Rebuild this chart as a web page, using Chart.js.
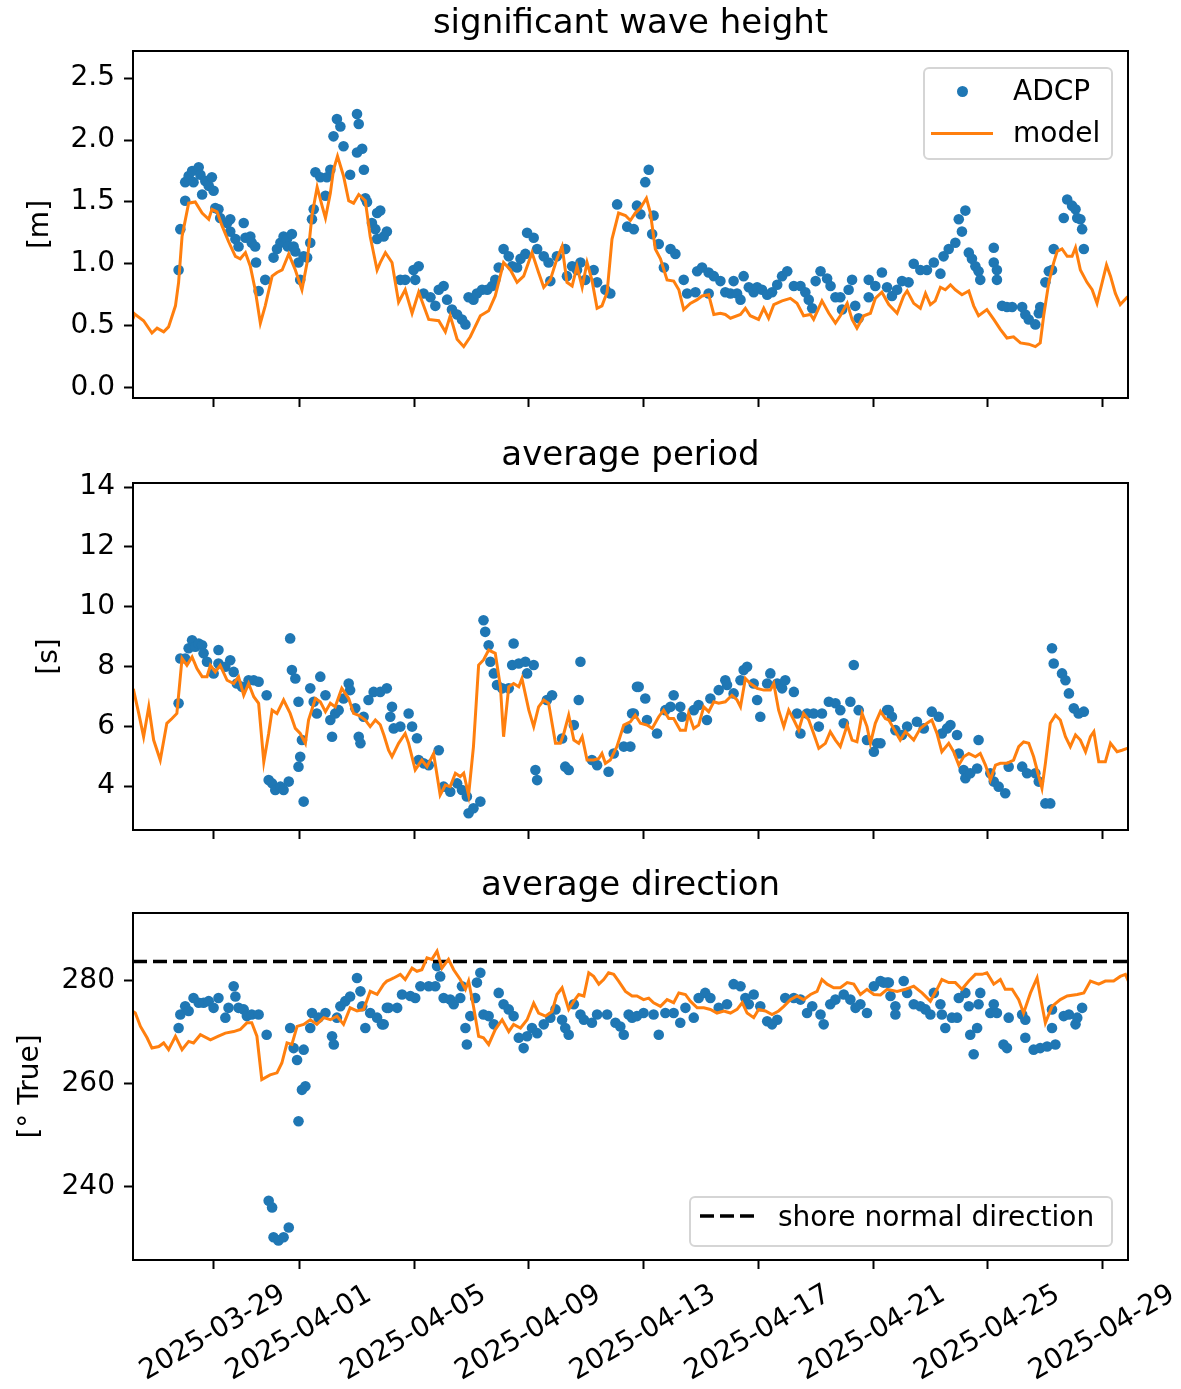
<!DOCTYPE html>
<html>
<head>
<meta charset="utf-8">
<title>ADCP vs model</title>
<script src="https://cdn.jsdelivr.net/npm/chart.js@4.4.0/dist/chart.umd.min.js"></script>
<style>
  body { margin: 0; background: #fff; }
  #fig { position: relative; width: 1181px; height: 1389px; font-family: 'DejaVu Sans', sans-serif; color: #000; }
  #fig canvas { position: absolute; left: 0; display: block; }
  .legend { position: absolute; box-sizing: border-box; border: 2px solid #d5d5d5; border-radius: 6px; background: rgba(255,255,255,0.8); }
  .legend span { position: absolute; font-size: 28px; line-height: 32px; white-space: nowrap; }
  .legend .dot { position: absolute; width: 11px; height: 11px; border-radius: 50%; background: #1f77b4; }
  .legend .line { position: absolute; height: 3px; background: #ff7f0e; }
  .legend svg { position: absolute; }
</style>
</head>
<body>
<div id="fig">
  <canvas id="hsChart" width="1181" height="428" style="top:0px"></canvas>
  <canvas id="tpChart" width="1181" height="428" style="top:432px"></canvas>
  <canvas id="dirChart" width="1181" height="527" style="top:862px"></canvas>

  <div class="legend" style="left:923px; top:67px; width:190px; height:93px;">
    <div class="dot" style="left:32px; top:17px;"></div>
    <span style="left:88px; top:6px;">ADCP</span>
    <div class="line" style="left:6px; top:63px; width:62px;"></div>
    <span style="left:88px; top:48px;">model</span>
  </div>

  <div class="legend" style="left:689px; top:1196px; width:424px; height:51px;">
    <svg width="58" height="8" style="left:9px; top:14px;">
      <line x1="0" y1="4" x2="58" y2="4" stroke="#000" stroke-width="3.5" stroke-dasharray="14 6"></line>
    </svg>
    <span style="left:87px; top:3px;">shore normal direction</span>
  </div>
</div>

<script>
// time axis: days since 2025-03-29 00:00
const xMin = -2.80;
const xMax = 31.89;
const tickDays = [0, 3, 7, 11, 15, 19, 23, 27, 31];
const tickLabels = ['2025-03-29', '2025-04-01', '2025-04-05', '2025-04-09', '2025-04-13',
                    '2025-04-17', '2025-04-21', '2025-04-25', '2025-04-29'];

const hsTicks = [0, 0.5, 1, 1.5, 2, 2.5];
const tpTicks = [4, 6, 8, 10, 12, 14];
const dirTicks = [240, 260, 280];
const shoreNormal = 283.7;

// significant wave height [m]
const hsModel = [[-2.80,0.61],[-2.78,0.60],[-2.43,0.54],[-2.14,0.44],[-1.96,0.48],[-1.73,0.45],[-1.56,0.49],[-1.32,0.66],[-1.21,0.85],[-1.09,1.22],[-0.86,1.49],[-0.63,1.50],[-0.39,1.41],[-0.16,1.36],[-0.05,1.44],[0.13,1.42],[0.30,1.31],[0.53,1.18],[0.77,1.06],[0.94,1.04],[1.12,1.09],[1.29,0.98],[1.46,0.79],[1.64,0.52],[1.81,0.66],[2.05,0.90],[2.22,0.93],[2.40,0.95],[2.63,1.08],[2.86,0.95],[3.09,0.79],[3.27,1.01],[3.44,1.39],[3.62,1.62],[3.79,1.47],[3.91,1.37],[4.08,1.57],[4.19,1.76],[4.33,1.87],[4.54,1.71],[4.72,1.51],[4.89,1.49],[5.07,1.56],[5.30,1.51],[5.47,1.22],[5.71,0.95],[5.82,1.01],[6.00,1.09],[6.23,1.01],[6.46,0.69],[6.69,0.79],[6.93,0.60],[7.16,0.77],[7.51,0.55],[7.86,0.54],[8.09,0.45],[8.26,0.58],[8.50,0.39],[8.73,0.33],[8.96,0.41],[9.31,0.58],[9.60,0.62],[9.83,0.74],[10.12,1.01],[10.36,0.95],[10.59,0.85],[10.82,0.90],[11.11,1.09],[11.34,0.93],[11.52,0.81],[11.75,0.87],[11.98,1.04],[12.16,1.14],[12.33,0.85],[12.51,0.82],[12.68,0.98],[12.86,0.81],[13.03,1.01],[13.20,0.87],[13.38,0.64],[13.55,0.66],[13.73,0.77],[13.90,1.20],[14.13,1.41],[14.37,1.39],[14.54,1.35],[14.71,1.41],[14.89,1.45],[15.10,1.53],[15.24,1.41],[15.41,1.12],[15.59,1.04],[15.82,0.87],[16.05,0.86],[16.23,0.79],[16.40,0.63],[16.63,0.68],[16.87,0.71],[17.04,0.74],[17.27,0.75],[17.45,0.59],[17.68,0.60],[17.85,0.59],[18.03,0.56],[18.38,0.59],[18.55,0.64],[18.72,0.58],[19.01,0.55],[19.19,0.64],[19.36,0.56],[19.54,0.67],[19.83,0.70],[20.12,0.72],[20.35,0.68],[20.58,0.58],[20.82,0.59],[20.93,0.55],[21.22,0.70],[21.46,0.60],[21.69,0.52],[21.86,0.58],[22.10,0.68],[22.27,0.55],[22.44,0.48],[22.68,0.58],[22.91,0.60],[23.08,0.72],[23.31,0.77],[23.55,0.67],[23.84,0.60],[24.07,0.74],[24.19,0.78],[24.42,0.68],[24.65,0.64],[24.83,0.76],[25.00,0.67],[25.17,0.70],[25.35,0.81],[25.52,0.79],[25.70,0.83],[25.87,0.79],[26.10,0.75],[26.34,0.78],[26.51,0.66],[26.68,0.58],[26.97,0.63],[27.21,0.55],[27.44,0.47],[27.67,0.40],[27.90,0.41],[28.14,0.36],[28.43,0.35],[28.66,0.33],[28.83,0.36],[28.95,0.58],[29.13,0.85],[29.30,1.01],[29.42,1.10],[29.59,1.12],[29.77,1.06],[29.94,1.06],[30.06,1.13],[30.23,0.95],[30.46,0.85],[30.64,0.79],[30.81,0.68],[30.99,0.85],[31.14,0.99],[31.28,0.90],[31.45,0.76],[31.62,0.67],[31.86,0.73],[31.95,0.74]];

const hsAdcp = [[-1.21,0.95],[-1.15,1.28],[-0.98,1.51],[-0.98,1.66],[-0.86,1.71],[-0.74,1.75],[-0.69,1.66],[-0.51,1.78],[-0.45,1.72],[-0.39,1.56],[-0.28,1.67],[-0.16,1.63],[-0.05,1.70],[0.01,1.59],[0.07,1.45],[0.18,1.44],[0.24,1.37],[0.48,1.33],[0.59,1.36],[0.59,1.26],[0.77,1.20],[0.88,1.14],[1.06,1.33],[1.12,1.21],[1.29,1.22],[1.34,1.17],[1.46,1.14],[1.49,1.01],[1.58,0.78],[1.81,0.87],[2.10,1.05],[2.22,1.12],[2.34,1.17],[2.45,1.22],[2.57,1.20],[2.60,1.14],[2.74,1.24],[2.80,1.14],[2.86,1.10],[2.97,1.01],[3.03,0.87],[3.15,1.06],[3.27,1.05],[3.38,1.17],[3.44,1.36],[3.50,1.44],[3.56,1.74],[3.73,1.70],[3.91,1.55],[3.96,1.70],[4.08,1.76],[4.19,2.03],[4.31,2.17],[4.43,2.11],[4.54,1.95],[4.77,1.72],[5.01,2.21],[5.01,1.90],[5.07,2.13],[5.19,1.93],[5.25,1.76],[5.30,1.53],[5.36,1.50],[5.53,1.33],[5.65,1.28],[5.71,1.41],[5.71,1.20],[5.82,1.43],[5.94,1.22],[6.05,1.26],[6.52,0.87],[6.69,0.87],[6.98,0.95],[7.04,0.87],[7.16,0.98],[7.33,0.76],[7.57,0.73],[7.74,0.66],[7.86,0.79],[8.03,0.82],[8.15,0.71],[8.32,0.63],[8.50,0.59],[8.67,0.55],[8.79,0.51],[8.90,0.73],[9.07,0.71],[9.19,0.76],[9.37,0.79],[9.55,0.79],[9.72,0.82],[9.83,0.87],[9.95,0.97],[10.12,1.12],[10.30,1.06],[10.42,0.98],[10.59,0.97],[10.71,1.04],[10.88,1.08],[10.94,1.25],[11.17,1.21],[11.29,1.12],[11.52,1.06],[11.69,1.01],[11.75,0.86],[11.98,1.06],[12.27,1.12],[12.33,0.90],[12.51,0.98],[12.68,0.95],[12.80,1.01],[12.97,0.87],[13.26,0.95],[13.38,0.85],[13.67,0.79],[13.84,0.76],[14.08,1.48],[14.43,1.30],[14.66,1.28],[14.77,1.47],[14.89,1.40],[15.06,1.66],[15.18,1.76],[15.30,1.24],[15.35,1.39],[15.53,1.16],[15.71,0.97],[15.94,1.12],[16.11,1.08],[16.40,0.87],[16.52,0.76],[16.81,0.77],[16.87,0.94],[17.04,0.97],[17.27,0.93],[17.27,0.76],[17.45,0.90],[17.68,0.86],[17.85,0.77],[18.03,0.76],[18.14,0.86],[18.26,0.76],[18.38,0.71],[18.49,0.90],[18.67,0.81],[18.84,0.77],[18.96,0.81],[19.13,0.79],[19.31,0.75],[19.48,0.77],[19.66,0.83],[19.83,0.90],[20.01,0.94],[20.24,0.82],[20.47,0.82],[20.64,0.77],[20.76,0.71],[20.88,0.64],[21.00,0.86],[21.17,0.94],[21.40,0.88],[21.52,0.82],[21.69,0.73],[21.86,0.73],[21.92,0.63],[22.15,0.79],[22.27,0.87],[22.38,0.66],[22.50,0.56],[22.85,0.87],[22.85,0.73],[23.08,0.82],[23.31,0.93],[23.49,0.81],[23.66,0.74],[23.84,0.79],[24.01,0.86],[24.24,0.85],[24.42,1.00],[24.65,0.95],[24.88,0.95],[25.12,1.01],[25.35,0.92],[25.46,1.06],[25.64,1.12],[25.87,1.17],[25.99,1.36],[26.10,1.26],[26.22,1.43],[26.34,1.09],[26.45,1.04],[26.57,0.98],[26.68,0.94],[26.74,0.87],[27.21,1.13],[27.21,1.01],[27.32,0.95],[27.32,0.87],[27.50,0.66],[27.67,0.65],[27.85,0.65],[28.20,0.65],[28.31,0.59],[28.43,0.55],[28.66,0.51],[28.78,0.60],[28.83,0.65],[29.01,0.85],[29.13,0.94],[29.24,0.95],[29.30,1.12],[29.65,1.37],[29.77,1.52],[29.94,1.47],[30.06,1.44],[30.12,1.37],[30.23,1.36],[30.29,1.28],[30.35,1.12]];

// average period [s]
const tpModel = [[-2.80,7.25],[-2.78,7.21],[-2.60,6.43],[-2.43,5.65],[-2.25,6.65],[-2.08,5.54],[-1.85,4.87],[-1.62,6.10],[-1.44,6.26],[-1.27,6.43],[-1.09,8.27],[-0.92,8.04],[-0.74,8.32],[-0.57,7.93],[-0.39,7.66],[-0.22,7.66],[-0.10,8.04],[0.07,7.82],[0.24,8.04],[0.48,7.54],[0.71,7.43],[0.88,7.66],[1.06,7.04],[1.23,7.43],[1.41,6.99],[1.58,6.77],[1.76,4.81],[1.93,5.76],[2.05,6.54],[2.22,6.43],[2.45,6.88],[2.68,6.43],[2.86,5.93],[3.03,5.76],[3.21,5.43],[3.32,6.21],[3.56,6.93],[3.73,6.82],[3.91,6.49],[4.08,6.77],[4.25,6.65],[4.48,7.27],[4.72,6.93],[4.89,6.43],[5.07,6.37],[5.30,6.21],[5.47,5.99],[5.65,6.21],[5.82,6.05],[5.95,5.70],[6.11,5.20],[6.23,4.98],[6.46,5.43],[6.69,5.76],[6.81,5.43],[7.04,4.54],[7.27,4.87],[7.45,4.65],[7.68,5.09],[7.91,3.70],[8.09,4.03],[8.26,3.98],[8.44,4.43],[8.61,4.32],[8.73,4.43],[8.90,3.70],[9.07,5.32],[9.25,8.05],[9.42,8.22],[9.60,8.55],[9.83,8.44],[10.01,7.32],[10.12,5.65],[10.30,7.32],[10.47,7.43],[10.65,7.32],[10.76,7.60],[11.00,6.54],[11.17,5.99],[11.34,6.65],[11.52,6.88],[11.69,6.77],[11.93,5.43],[12.10,5.43],[12.22,5.76],[12.39,6.37],[12.57,5.54],[12.74,5.43],[12.86,5.65],[13.03,4.87],[13.26,4.87],[13.44,4.92],[13.55,5.09],[13.67,4.76],[13.84,4.87],[14.07,5.32],[14.31,6.04],[14.54,6.15],[14.71,6.37],[14.89,6.10],[15.12,6.04],[15.30,5.93],[15.53,6.32],[15.70,6.54],[15.88,6.26],[16.05,6.26],[16.28,5.87],[16.46,5.87],[16.57,6.43],[16.75,5.93],[16.92,6.04],[17.10,6.65],[17.27,6.49],[17.45,6.82],[17.62,6.77],[17.85,6.82],[18.08,7.04],[18.26,6.88],[18.38,6.65],[18.55,7.60],[18.72,7.43],[18.96,7.27],[19.19,7.21],[19.42,7.21],[19.54,7.43],[19.71,6.54],[19.89,5.99],[20.06,6.54],[20.24,6.21],[20.41,5.87],[20.58,6.43],[20.76,6.21],[20.93,5.76],[21.11,5.26],[21.34,5.43],[21.51,5.82],[21.69,5.54],[21.86,5.32],[22.10,6.04],[22.27,5.54],[22.44,5.48],[22.62,6.43],[22.79,5.99],[22.91,5.43],[23.08,6.10],[23.26,6.50],[23.43,6.26],[23.55,6.21],[23.72,5.93],[23.95,5.54],[24.13,5.82],[24.42,5.54],[24.65,5.93],[24.88,6.10],[25.05,6.21],[25.23,5.76],[25.40,5.15],[25.64,5.43],[25.81,5.15],[25.99,4.70],[26.16,4.98],[26.34,5.09],[26.57,4.98],[26.74,5.09],[26.92,4.70],[27.09,4.21],[27.27,4.70],[27.44,4.76],[27.67,4.76],[27.90,4.87],[28.08,5.32],[28.25,5.48],[28.43,5.43],[28.60,4.98],[28.78,4.32],[28.89,3.93],[29.01,4.76],[29.18,6.10],[29.36,6.37],[29.53,6.21],[29.71,5.65],[29.88,5.32],[30.06,5.71],[30.23,5.54],[30.41,5.15],[30.58,5.65],[30.70,5.82],[30.87,4.81],[31.10,4.81],[31.28,5.43],[31.51,5.15],[31.68,5.20],[31.86,5.26],[31.95,5.27]];

const tpAdcp = [[-1.21,6.77],[-1.15,8.27],[-0.98,8.27],[-0.86,8.61],[-0.74,8.88],[-0.63,8.66],[-0.51,8.77],[-0.39,8.71],[-0.34,8.44],[-0.22,8.16],[0.01,7.77],[0.18,8.55],[0.18,8.10],[0.42,7.99],[0.59,8.21],[0.71,7.82],[0.82,7.43],[1.00,7.32],[1.23,7.54],[1.41,7.54],[1.58,7.49],[1.86,7.04],[1.93,4.20],[2.05,4.09],[2.16,3.87],[2.34,3.98],[2.45,3.87],[2.63,4.15],[2.68,8.94],[2.74,7.88],[2.86,7.60],[2.97,6.82],[2.97,4.65],[3.03,4.98],[3.09,5.54],[3.15,3.48],[3.38,7.27],[3.50,6.82],[3.61,6.43],[3.73,7.66],[3.91,7.04],[4.08,6.21],[4.14,5.65],[4.25,6.43],[4.37,6.54],[4.54,6.93],[4.72,7.43],[4.77,7.21],[4.95,6.60],[5.07,5.65],[5.13,5.43],[5.24,6.32],[5.41,6.88],[5.59,7.15],[5.82,7.15],[6.05,7.27],[6.17,6.32],[6.23,6.65],[6.29,5.93],[6.52,5.99],[6.81,6.43],[6.93,5.99],[7.10,5.60],[7.16,4.87],[7.33,4.76],[7.51,4.70],[7.86,5.20],[8.03,3.98],[8.26,3.81],[8.50,4.09],[8.67,3.87],[8.84,3.65],[8.90,3.09],[9.07,3.26],[9.31,3.48],[9.42,9.55],[9.48,9.16],[9.60,8.71],[9.66,8.16],[9.78,7.77],[9.89,7.38],[10.07,7.27],[10.30,7.27],[10.42,8.05],[10.47,8.77],[10.65,8.10],[10.88,8.16],[10.94,7.77],[11.17,8.05],[11.23,4.54],[11.29,4.20],[11.63,6.88],[11.81,7.04],[12.16,5.59],[12.27,4.65],[12.39,4.54],[12.57,6.04],[12.74,6.88],[12.80,8.16],[13.20,4.87],[13.38,4.70],[13.78,4.48],[13.96,5.09],[14.31,5.32],[14.43,5.93],[14.54,5.32],[14.60,6.43],[14.66,6.43],[14.77,7.32],[14.83,7.32],[15.06,6.93],[15.12,6.21],[15.47,5.76],[15.76,6.54],[15.94,6.65],[16.05,7.04],[16.28,6.65],[16.34,6.32],[16.75,6.54],[16.92,6.71],[17.21,6.21],[17.33,6.93],[17.62,7.21],[17.85,7.54],[17.91,7.38],[18.14,7.10],[18.38,7.54],[18.49,7.88],[18.61,7.99],[18.84,7.43],[18.96,6.88],[19.07,6.32],[19.31,7.43],[19.42,7.77],[19.66,7.43],[19.83,7.27],[19.94,7.54],[20.24,7.15],[20.35,6.43],[20.47,5.76],[20.70,6.43],[20.93,6.43],[21.11,5.99],[21.22,6.43],[21.46,6.82],[21.69,6.77],[21.86,6.54],[21.98,6.10],[22.21,6.82],[22.33,8.05],[22.50,6.54],[22.79,5.54],[23.03,5.15],[23.14,5.43],[23.26,5.43],[23.49,6.54],[23.55,6.54],[23.66,6.32],[23.78,5.87],[24.01,5.71],[24.19,5.99],[24.53,6.15],[24.77,5.93],[25.05,6.49],[25.29,6.32],[25.40,5.76],[25.58,5.93],[25.70,6.04],[25.93,5.71],[25.99,5.09],[26.16,4.54],[26.22,4.26],[26.39,4.43],[26.63,4.59],[26.68,5.54],[27.09,4.43],[27.21,4.15],[27.38,3.98],[27.61,3.76],[27.73,4.65],[28.20,4.65],[28.37,4.43],[28.66,4.43],[28.78,4.15],[29.01,3.42],[29.18,3.42],[29.24,8.61],[29.30,8.10],[29.59,7.77],[29.71,7.54],[29.83,7.10],[30.00,6.60],[30.17,6.43],[30.35,6.49]];

// average direction [deg True]
const dirModel = [[-2.80,274.0],[-2.72,273.7],[-2.54,271.1],[-2.31,268.9],[-2.14,266.9],[-1.90,267.2],[-1.73,267.9],[-1.56,266.6],[-1.32,269.2],[-1.09,266.6],[-0.86,268.2],[-0.69,267.9],[-0.45,269.5],[-0.10,268.5],[0.18,269.2],[0.42,269.8],[0.71,270.1],[0.94,270.5],[1.17,271.8],[1.34,271.8],[1.52,269.2],[1.69,260.8],[1.98,261.7],[2.22,262.1],[2.39,264.0],[2.57,267.9],[2.74,267.6],[2.92,271.1],[3.15,271.5],[3.38,272.4],[3.61,271.5],[3.85,272.8],[4.08,272.4],[4.31,273.1],[4.54,271.5],[4.77,274.7],[5.01,274.1],[5.24,274.4],[5.47,277.9],[5.71,277.3],[5.94,279.3],[6.05,279.9],[6.17,280.2],[6.29,280.5],[6.52,281.2],[6.69,280.2],[6.93,282.4],[7.10,281.8],[7.27,282.1],[7.45,284.4],[7.62,284.1],[7.80,285.7],[7.97,282.4],[8.20,284.1],[8.38,282.1],[8.61,280.2],[8.79,278.3],[8.90,279.9],[9.07,275.0],[9.25,269.2],[9.42,268.9],[9.60,267.6],[9.83,270.5],[10.07,272.4],[10.30,270.1],[10.47,271.5],[10.71,270.8],[10.94,272.4],[11.17,275.6],[11.34,273.7],[11.58,273.1],[11.81,274.0],[11.98,277.3],[12.16,278.6],[12.39,274.4],[12.57,276.0],[12.74,277.3],[12.92,277.0],[13.09,281.5],[13.26,280.8],[13.44,279.3],[13.61,280.2],[13.78,281.5],[13.96,281.2],[14.13,279.9],[14.37,277.9],[14.60,277.0],[14.77,277.0],[15.00,276.3],[15.18,276.6],[15.35,275.7],[15.59,275.0],[15.82,276.3],[16.05,275.7],[16.23,277.6],[16.46,277.3],[16.63,276.0],[16.87,274.7],[17.10,274.7],[17.33,274.4],[17.56,273.7],[17.80,274.1],[18.03,273.7],[18.26,274.4],[18.44,275.7],[18.61,273.7],[18.84,272.8],[19.01,274.4],[19.25,274.1],[19.48,273.4],[19.71,274.1],[19.89,275.0],[20.12,276.3],[20.35,277.0],[20.58,276.3],[20.82,277.3],[21.05,277.9],[21.22,280.2],[21.40,279.3],[21.63,278.6],[21.86,278.6],[22.10,279.6],[22.33,279.3],[22.56,277.3],[22.79,278.3],[23.03,277.3],[23.26,277.2],[23.49,278.3],[23.84,277.9],[24.13,278.3],[24.42,278.9],[24.71,277.6],[25.00,276.0],[25.23,278.3],[25.40,280.2],[25.64,279.6],[25.87,279.6],[26.10,278.3],[26.34,279.9],[26.57,281.2],[26.80,281.2],[26.97,281.5],[27.21,279.3],[27.44,280.2],[27.61,278.3],[27.85,278.3],[28.08,276.3],[28.25,273.7],[28.49,277.6],[28.72,280.5],[28.83,277.0],[29.01,271.8],[29.24,275.0],[29.53,276.3],[29.77,277.0],[30.12,277.3],[30.35,277.6],[30.58,279.9],[30.87,279.3],[31.10,279.9],[31.39,279.9],[31.62,280.8],[31.80,281.2],[31.95,279.3]];

const dirAdcp = [[-1.21,270.8],[-1.15,273.4],[-0.98,275.0],[-0.86,274.1],[-0.69,276.6],[-0.51,275.7],[-0.34,275.7],[-0.16,276.0],[0.01,274.7],[0.18,276.6],[0.42,272.8],[0.53,274.7],[0.71,278.9],[0.77,276.9],[0.88,274.7],[1.06,274.4],[1.17,273.1],[1.34,273.4],[1.58,273.4],[1.86,269.5],[1.93,237.3],[2.05,236.0],[2.10,230.2],[2.27,229.6],[2.45,230.2],[2.63,232.1],[2.68,270.8],[2.80,266.9],[2.92,264.6],[2.97,252.7],[3.09,258.8],[3.15,266.6],[3.21,259.5],[3.38,270.8],[3.44,273.7],[3.67,272.8],[3.91,273.7],[4.14,269.2],[4.20,267.6],[4.31,272.8],[4.43,275.0],[4.60,276.0],[4.77,276.9],[5.01,280.5],[5.13,277.9],[5.19,275.0],[5.30,270.8],[5.47,273.7],[5.71,272.8],[5.88,271.5],[5.94,271.5],[6.05,274.7],[6.11,274.7],[6.41,274.7],[6.58,277.3],[6.87,277.0],[7.04,276.6],[7.22,278.9],[7.51,278.9],[7.74,278.9],[7.80,282.8],[7.91,280.8],[8.03,276.6],[8.26,276.3],[8.38,275.4],[8.61,276.6],[8.67,278.9],[8.79,270.8],[8.84,267.6],[8.96,273.1],[9.13,276.6],[9.19,279.6],[9.31,281.5],[9.42,273.4],[9.60,273.1],[9.78,271.5],[9.95,277.6],[10.12,275.4],[10.30,274.4],[10.47,273.1],[10.65,268.9],[10.82,266.9],[10.94,269.2],[11.11,270.8],[11.29,269.8],[11.52,271.5],[11.75,272.8],[11.93,274.4],[12.16,272.4],[12.27,270.8],[12.39,269.5],[12.57,275.4],[12.80,273.4],[12.92,272.4],[13.20,271.8],[13.38,273.4],[13.73,273.4],[14.02,271.8],[14.19,271.1],[14.31,269.5],[14.48,273.4],[14.60,272.8],[14.77,273.1],[15.00,273.7],[15.35,273.4],[15.53,269.5],[15.76,273.7],[16.05,273.7],[16.28,271.8],[16.46,274.7],[16.75,272.8],[16.92,276.6],[17.15,277.6],[17.33,276.6],[17.62,274.7],[17.91,275.4],[18.14,279.3],[18.38,278.9],[18.55,276.6],[18.67,275.4],[18.84,277.3],[19.07,275.0],[19.31,272.1],[19.48,271.5],[19.66,272.4],[19.94,276.6],[20.24,276.6],[20.47,276.3],[20.70,273.7],[20.88,275.0],[21.17,273.4],[21.28,271.5],[21.51,275.4],[21.69,276.3],[21.98,277.3],[22.21,276.3],[22.39,274.7],[22.56,275.4],[22.79,273.7],[23.03,278.9],[23.26,279.9],[23.37,279.6],[23.49,279.6],[23.55,279.6],[23.61,277.0],[23.78,275.0],[23.78,273.4],[24.07,279.9],[24.19,277.6],[24.42,275.4],[24.65,275.0],[24.83,274.4],[25.00,273.4],[25.12,277.6],[25.35,275.4],[25.40,273.4],[25.52,270.8],[25.75,272.8],[25.93,272.8],[25.99,276.6],[26.22,277.6],[26.34,275.0],[26.39,269.5],[26.51,265.7],[26.63,270.8],[26.68,275.4],[26.74,277.6],[27.09,273.7],[27.21,275.4],[27.32,273.7],[27.55,267.6],[27.67,266.9],[27.73,272.8],[28.20,273.4],[28.31,272.4],[28.31,268.9],[28.60,266.6],[28.83,266.9],[29.07,267.2],[29.24,270.8],[29.24,274.4],[29.36,267.6],[29.65,273.1],[29.83,273.4],[30.06,271.5],[30.12,272.8],[30.29,274.7]];

const BLUE = '#1f77b4';
const ORANGE = '#ff7f0e';

Chart.defaults.font.family = "'DejaVu Sans', sans-serif";
Chart.defaults.color = '#000';

const toXY = (pairs) => pairs.map(([x, y]) => ({ x, y }));

// black box around each axes, like matplotlib spines
const framePlugin = {
    id: 'frame',
    afterDraw(chart) {
        const { ctx, chartArea: a } = chart;
        ctx.save();
        ctx.strokeStyle = '#000';
        ctx.lineWidth = 2;
        ctx.strokeRect(a.left, a.top, a.right - a.left, a.bottom - a.top);
        ctx.restore();
    }
};

const tickGrid = { drawOnChartArea: false, drawTicks: true, tickLength: 9, tickWidth: 2, tickColor: '#000' };

function panelOptions(title, yLabel, yMin, yMax, yTicks, yFmt, yTitlePad, showDates, xAxisHeight) {
    return {
        responsive: false,
        animation: false,
        layout: { padding: { left: 0, right: 53, top: 0, bottom: 0 } },
        plugins: {
            legend: { display: false },
            tooltip: { enabled: false },
            title: {
                display: true,
                text: title,
                fullSize: false,
                color: '#000',
                font: { size: 34, weight: 'normal' },
                padding: { top: 4, bottom: 6.2 }
            }
        },
        scales: {
            x: {
                type: 'linear',
                min: xMin,
                max: xMax,
                afterBuildTicks: (s) => { s.ticks = tickDays.map(v => ({ value: v })); },
                afterFit: (s) => { s.height = xAxisHeight; },
                grid: tickGrid,
                border: { display: false },
                ticks: {
                    display: showDates,
                    autoSkip: false,
                    minRotation: 30,
                    maxRotation: 30,
                    padding: 9,
                    labelOffset: 70,
                    color: '#000',
                    font: { size: 28 },
                    callback: (v, i) => tickLabels[i]
                }
            },
            y: {
                type: 'linear',
                min: yMin,
                max: yMax,
                afterBuildTicks: (s) => { s.ticks = yTicks.map(v => ({ value: v })); },
                afterFit: (s) => { s.width = 133; },
                grid: tickGrid,
                border: { display: false },
                ticks: { padding: 9, color: '#000', font: { size: 28 }, callback: yFmt },
                title: {
                    display: true,
                    text: yLabel,
                    color: '#000',
                    font: { size: 28 },
                    padding: { top: yTitlePad, bottom: 0 }
                }
            }
        }
    };
}

function modelSet(pairs) {
    return {
        label: 'model',
        data: toXY(pairs),
        showLine: true,
        borderColor: ORANGE,
        borderWidth: 3,
        pointRadius: 0,
        tension: 0
    };
}

function adcpSet(pairs) {
    return {
        label: 'ADCP',
        data: toXY(pairs),
        showLine: false,
        pointRadius: 5.3,
        pointBorderWidth: 0,
        pointBackgroundColor: BLUE,
        pointBorderColor: BLUE
    };
}

// Significant wave height
const hsChart = new Chart(document.getElementById('hsChart'), {
    type: 'scatter',
    data: { datasets: [modelSet(hsModel), adcpSet(hsAdcp)] },
    options: panelOptions('significant wave height', '[m]', -0.085, 2.72, hsTicks,
        v => v.toFixed(1), 24, false, 30),
    plugins: [framePlugin]
});

// Average period
const tpChart = new Chart(document.getElementById('tpChart'), {
    type: 'scatter',
    data: { datasets: [modelSet(tpModel), adcpSet(tpAdcp)] },
    options: panelOptions('average period', '[s]', 2.53, 14.14, tpTicks,
        v => String(v), 33, false, 30),
    plugins: [framePlugin]
});

// Average direction with shore normal reference
const dirChart = new Chart(document.getElementById('dirChart'), {
    type: 'scatter',
    data: {
        datasets: [
            modelSet(dirModel),
            {
                label: 'shore normal direction',
                data: [{ x: xMin, y: shoreNormal }, { x: xMax, y: shoreNormal }],
                showLine: true,
                borderColor: '#000',
                borderWidth: 3.5,
                borderDash: [14, 6],
                pointRadius: 0
            },
            adcpSet(dirAdcp)
        ]
    },
    options: panelOptions('average direction', '[° True]', 225.8, 293.1, dirTicks,
        v => String(v), 14, true, 129),
    plugins: [framePlugin]
});
</script>
</body>
</html>
